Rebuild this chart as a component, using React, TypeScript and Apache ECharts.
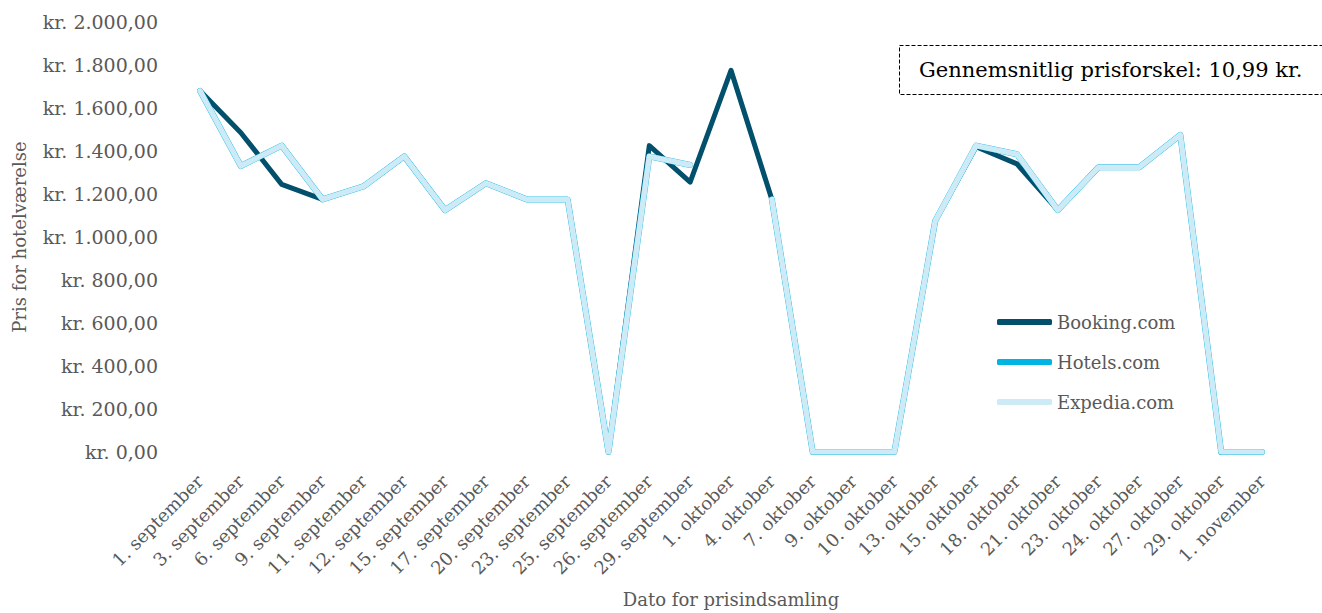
import React, { useEffect, useRef } from "react";
import * as echarts from "echarts";

const categories = [
  "1. september", "3. september", "6. september", "9. september", "11. september",
  "12. september", "15. september", "17. september", "20. september", "23. september",
  "25. september", "26. september", "29. september", "1. oktober", "4. oktober",
  "7. oktober", "9. oktober", "10. oktober", "13. oktober", "15. oktober",
  "18. oktober", "21. oktober", "23. oktober", "24. oktober", "27. oktober",
  "29. oktober", "1. november",
];

const booking = [
  1680, 1485, 1245, 1175, 1235, 1375, 1125, 1250, 1175, 1175,
  0, 1425, 1255, 1775, 1175, 0, 0, 0, 1075, 1420,
  1340, 1125, 1325, 1325, 1475, 0, 0,
];

const hotels = [
  1680, 1330, 1425, 1175, 1235, 1375, 1125, 1250, 1175, 1175,
  0, 1375, 1335, null, 1175, 0, 0, 0, 1075, 1425,
  1385, 1125, 1325, 1325, 1475, 0, 0,
];

const expedia = [
  1680, 1330, 1425, 1175, 1235, 1375, 1125, 1250, 1175, 1175,
  0, 1375, 1335, null, 1175, 0, 0, 0, 1075, 1425,
  1385, 1125, 1325, 1325, 1475, 0, 0,
];

const yTicks = { min: 0, max: 2000, interval: 200 };
const annotationText = "Gennemsnitlig prisforskel: 10,99 kr.";

const FONT = "'DejaVu Serif', serif";
const GREY = "#595959";

function fmtKr(v: number): string {
  const s = v.toFixed(2);
  const [i, d] = s.split(".");
  return "kr. " + i.replace(/\B(?=(\d{3})+(?!\d))/g, ".") + "," + d;
}

export default function App() {
  const ref = useRef<HTMLDivElement>(null);
  useEffect(() => {
    if (!ref.current) return;
    const chart = echarts.init(ref.current, undefined, { renderer: "svg" });
    const lineSeries = (name: string, data: (number | null)[], color: string, width: number) => ({
      name,
      type: "line",
      data,
      showSymbol: false,
      symbol: "none",
      connectNulls: false,
      lineStyle: { color, width, cap: "round", join: "round" },
      itemStyle: { color },
    });
    chart.setOption({
      animation: false,
      textStyle: { fontFamily: FONT },
      grid: { left: 200, right: 60, top: 22, bottom: 159, containLabel: false },
      xAxis: {
        type: "category",
        data: categories,
        boundaryGap: false,
        axisLine: { show: false },
        axisTick: { show: false },
        splitLine: { show: false },
        axisLabel: {
          rotate: 45,
          interval: 0,
          margin: 26,
          color: GREY,
          fontFamily: FONT,
          fontSize: 18,
        },
        name: "Dato for prisindsamling",
        nameLocation: "middle",
        nameGap: 138,
        nameTextStyle: { color: GREY, fontFamily: FONT, fontSize: 18 },
      },
      yAxis: {
        type: "value",
        min: yTicks.min,
        max: yTicks.max,
        interval: yTicks.interval,
        axisLine: { show: false },
        axisTick: { show: false },
        splitLine: { show: false },
        axisLabel: {
          color: GREY,
          fontFamily: FONT,
          fontSize: 19,
          margin: 42,
          formatter: (v: number) => fmtKr(v),
        },
        name: "Pris for hotelværelse",
        nameLocation: "middle",
        nameGap: 172,
        nameTextStyle: { color: GREY, fontFamily: FONT, fontSize: 18 },
      },
      legend: {
        orient: "vertical",
        left: 997,
        top: 313,
        padding: 0,
        itemWidth: 55,
        itemHeight: 6,
        itemGap: 22,
        icon: "roundRect",
        textStyle: { color: GREY, fontFamily: FONT, fontSize: 18, padding: [0, 0, 0, 0] },
        data: ["Booking.com", "Hotels.com", "Expedia.com"],
      },
      graphic: [
        {
          type: "rect",
          shape: { x: 899.5, y: 45.5, width: 440, height: 49 },
          style: { fill: "#ffffff", stroke: "#000000", lineWidth: 1, lineDash: [4, 2] },
          z: 10,
        },
        {
          type: "text",
          x: 919,
          y: 70,
          style: {
            text: annotationText,
            fill: "#000000",
            font: `21px ${FONT}`,
            verticalAlign: "middle",
          },
          z: 11,
        },
      ],
      series: [
        lineSeries("Booking.com", booking, "#02506c", 5),
        lineSeries("Hotels.com", hotels, "#00b5e2", 6),
        lineSeries("Expedia.com", expedia, "#cdeaf7", 5.5),
      ],
    });
    return () => chart.dispose();
  }, []);
  return (
    <div
      ref={ref}
      style={{ position: "fixed", left: 0, top: 0, width: 1322, height: 613, background: "#fff" }}
    />
  );
}
